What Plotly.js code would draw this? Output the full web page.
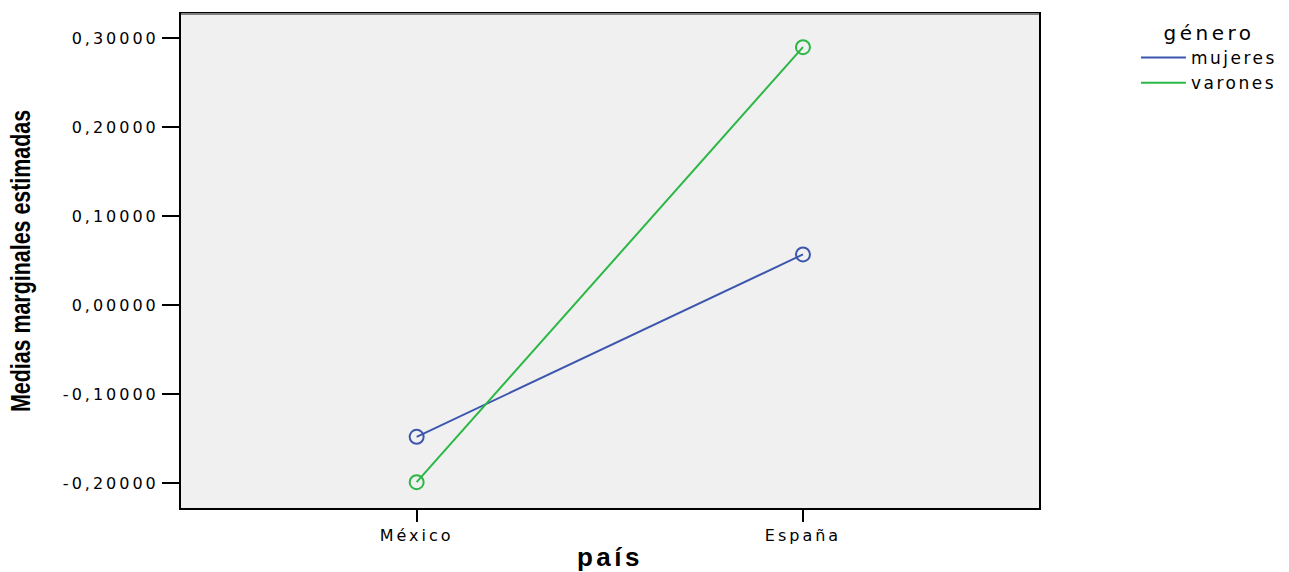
<!DOCTYPE html>
<html><head><meta charset="utf-8">
<script src="https://cdn.plot.ly/plotly-3.0.1.min.js"></script>
<style>
html,body{margin:0;padding:0;background:#fff;}
#chart{width:1289px;height:572px;}
.xtick text, .ytick text {letter-spacing:3px;}
.legendtext {letter-spacing:2.5px;}
.legendtitletext {letter-spacing:3.5px;}
.xtitle {letter-spacing:3.5px;}
</style></head><body><div id="chart"></div>
<script>
const paises = ['México', 'España'];
const mujeres = [-0.148, 0.057];
const varones = [-0.199, 0.290];
const yTickVals = [-0.2, -0.1, 0, 0.1, 0.2, 0.3];
const yTickText = ['-0,20000', '-0,10000', '0,00000', '0,10000', '0,20000', '0,30000'];

const fam = 'DejaVu Sans, Liberation Sans, Arial, sans-serif';
const tickFont = {family: fam, size: 16, color: '#000'};
const colM = '#3d56ad', colV = '#2bb744';

const traces = [
  {x: paises, y: mujeres, name: 'mujeres', type: 'scatter', mode: 'lines',
   line: {color: colM, width: 2}},
  {x: paises, y: varones, name: 'varones', type: 'scatter', mode: 'lines',
   line: {color: colV, width: 2}},
  {x: paises, y: mujeres, name: 'mujeres', type: 'scatter', mode: 'markers', showlegend: false,
   marker: {symbol: 'circle-open', size: 14, color: colM, line: {width: 2, color: colM}}},
  {x: paises, y: varones, name: 'varones', type: 'scatter', mode: 'markers', showlegend: false,
   marker: {symbol: 'circle-open', size: 14, color: colV, line: {width: 2, color: colV}}}
];

const layout = {
  width: 1289, height: 572,
  margin: {l: 181, r: 250, t: 14, b: 64, autoexpand: false},
  paper_bgcolor: '#ffffff',
  plot_bgcolor: '#f0f0f0',
  showlegend: true,
  xaxis: {
    type: 'category', range: [-0.61, 1.611],
    showgrid: false, zeroline: false,
    showline: true, linecolor: '#000', linewidth: 2, mirror: true,
    ticks: 'outside', ticklen: 12, tickwidth: 2, tickcolor: '#000',
    tickfont: tickFont,
    title: {text: 'país', font: {family: 'Liberation Sans, Arial, sans-serif', size: 26, weight: 'bold', color: '#000'}, standoff: 6}
  },
  yaxis: {
    range: [-0.228, 0.3273],
    tickvals: yTickVals, ticktext: yTickText,
    showgrid: false, zeroline: false,
    showline: true, linecolor: '#000', linewidth: 2, mirror: true,
    ticks: 'outside', ticklen: 17, tickwidth: 2, tickcolor: '#000',
    tickfont: tickFont,
    title: {text: 'Medias marginales estimadas', font: {family: 'Liberation Sans, Arial, sans-serif', size: 28, weight: 'bold', color: '#000'}, standoff: 24}
  },
  legend: {
    x: 1.113, y: 1.0, xanchor: 'left', yanchor: 'top',
    bgcolor: 'rgba(0,0,0,0)',
    font: {family: fam, size: 17, color: '#000'},
    title: {text: 'género', side: 'top center', font: {family: fam, size: 20, color: '#000'}},
    itemwidth: 45
  },
  shapes: [
    {type: 'line', xref: 'paper', yref: 'paper', x0: 0, x1: 1, y0: 1, y1: 1, line: {color: '#808080', width: 2}}
  ]
};

const gd = document.getElementById('chart');
Plotly.newPlot(gd, traces, layout, {displayModeBar: false, staticPlot: true}).then(function () {
  const t = gd.querySelector('.ytitle');
  if (t) {
    const x = parseFloat(t.getAttribute('x'));
    const y = parseFloat(t.getAttribute('y'));
    const tr = t.getAttribute('transform') || '';
    t.setAttribute('transform', tr + ' translate(' + x + ',' + y + ') scale(0.765,1) translate(' + (-x) + ',' + (-y) + ')');
  }
});
</script></body></html>
